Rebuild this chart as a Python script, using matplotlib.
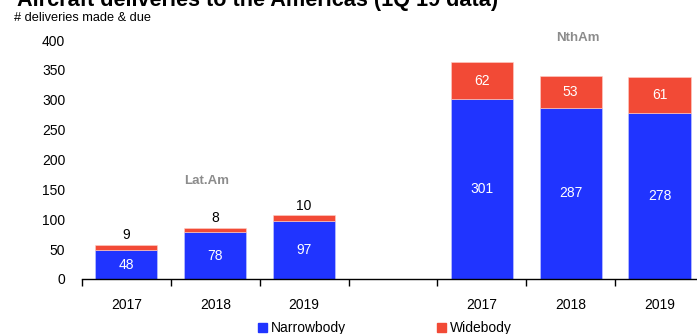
import matplotlib.pyplot as plt
from matplotlib.patches import Patch

plt.rcParams['font.family'] = ['Liberation Sans', 'DejaVu Sans']

# categories (the empty slot separates the two regions)
years = ['2017', '2018', '2019', '', '2017', '2018', '2019']
# deliveries made & due
narrowbody = [48, 78, 97, 0, 301, 287, 278]
widebody = [9, 8, 10, 0, 62, 53, 61]
regions = ['Lat.Am', 'NthAm']

blue = '#2034ff'
red = '#f24a36'

fig = plt.figure(figsize=(6.97, 3.34), dpi=100)
ax = fig.add_axes([0.1176, 0.1647, 0.8924, 0.7153])

x = list(range(len(years)))
nb_x = [i for i in x if years[i] != '']
nb = [narrowbody[i] for i in nb_x]
wb = [widebody[i] for i in nb_x]
ax.bar(nb_x, nb, width=0.7, color=blue, edgecolor='#c8ccff', linewidth=0.4)
ax.bar(nb_x, wb, width=0.7, bottom=nb, color=red, edgecolor='#ffd0c8', linewidth=0.4)

# value labels
for i, n, w in zip(nb_x, nb, wb):
    ax.text(i, n / 2, str(n), ha='center', va='center', color='white', fontsize=10)
    if i < 3:
        # small widebody numbers sit above the Lat.Am bars
        ax.text(i, n + w + 16, str(w), ha='center', va='center', color='black', fontsize=10)
    else:
        ax.text(i, n + w / 2, str(w), ha='center', va='center', color='white', fontsize=10)

# region labels
ax.text(0.9, 164, regions[0], ha='center', va='center', color='#8c8c8c', fontsize=9.5, fontweight='bold')
ax.text(5.08, 404, regions[1], ha='center', va='center', color='#8c8c8c', fontsize=9.5,
        fontweight='bold', clip_on=False)

ax.set_xlim(-0.5, 6.5)
ax.set_ylim(0, 400)
ax.set_yticks(range(0, 401, 50))
ax.set_xticks(x)
ax.set_xticklabels(years)
ax.set_xticks([i - 0.5 for i in range(8)], minor=True)
ax.tick_params(axis='x', which='major', length=0, pad=14, labelsize=10)
ax.tick_params(axis='x', which='minor', length=5, width=1, direction='out', color='black')
ax.tick_params(axis='y', length=0, pad=12, labelsize=10)
for s in ['top', 'right', 'left']:
    ax.spines[s].set_visible(False)
ax.spines['bottom'].set_color('black')
ax.spines['bottom'].set_linewidth(1)

# title (cut at the top in the original) and unit note
fig.text(0.024, 1 - 6 / 334, 'Aircraft deliveries to the Americas (1Q 19 data)', fontsize=15.6,
         fontweight='bold', va='baseline', ha='left')
fig.text(0.02, 1 - 18 / 334, '# deliveries made & due', fontsize=9.2, va='center', ha='left')

handles = [Patch(color=blue, label='Narrowbody'), Patch(color=red, label='Widebody')]
fig.legend(handles=handles, loc='center', bbox_to_anchor=(385 / 697, 0.018), ncol=2, frameon=False,
           fontsize=10, handlelength=0.6, handleheight=0.6, handletextpad=0.3, columnspacing=6.6,
           borderaxespad=0)

fig.savefig('out.png', dpi=100)
